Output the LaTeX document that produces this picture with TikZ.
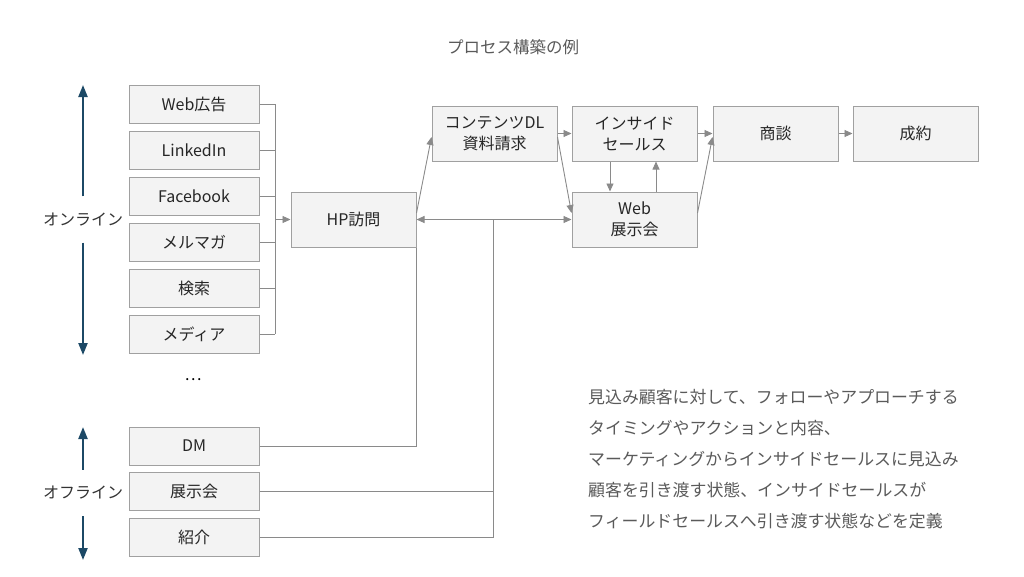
\documentclass[tikz,border=0pt]{standalone}
\usepackage{fontspec}
\setmainfont{Noto Sans CJK JP}
\usetikzlibrary{arrows.meta,positioning}
\definecolor{boxfill}{HTML}{F3F3F3}
\definecolor{boxline}{HTML}{A0A0A0}
\definecolor{linkgray}{HTML}{8A8A8A}
\definecolor{navy}{HTML}{1C4966}
\definecolor{notegray}{HTML}{5A5A5A}

\tikzset{
  chan/.style={draw=boxline,fill=boxfill,line width=1pt,minimum width=130pt,minimum height=38pt,
    inner sep=0pt,font=\fontsize{16}{21}\selectfont,text=black!85},
  stage/.style={chan,minimum width=125pt,minimum height=55pt,align=center},
  side/.style={font=\fontsize{16}{20}\selectfont,text=black!80,minimum height=46pt,inner sep=0pt},
  link/.style={draw=linkgray,line width=0.9pt},
  tip/.style={link,-{Triangle[length=8pt,width=7pt]}},
  span/.style={draw=navy,line width=2.2pt,-{Triangle[length=12pt,width=9pt]}},
}

\begin{document}
\begin{tikzpicture}[x=1pt,y=-1pt]
    \useasboundingbox (0,0) rectangle (1024,576);

    \node[font=\fontsize{16.5}{20}\selectfont,text=notegray] (title) at (513,47) {プロセス構築の例};

    % channels
    \node[chan] (web)   at (194,104) {Web広告};
    \node[chan] (lnk)   at (194,150) {LinkedIn};
    \node[chan] (fb)    at (194,196) {Facebook};
    \node[chan] (mm)    at (194,242) {メルマガ};
    \node[chan] (srch)  at (194,288) {検索};
    \node[chan] (media) at (194,334) {メディア};
    \node[font=\fontsize{16}{20}\selectfont] (more) at (193,380) {…};
    \node[chan] (dm)    at (194,446) {DM};
    \node[chan] (exh)   at (194,491) {展示会};
    \node[chan] (ref)   at (194,537) {紹介};

    \node[side] (online)  at (83,219.5) {オンライン};
    \node[side] (offline) at (83,493) {オフライン};
    \coordinate (OnTop)  at (83,85);
    \coordinate (OnBot)  at (83,355);
    \coordinate (OffTop) at (83,427);
    \coordinate (OffBot) at (83,560);
    \draw[span] (online.north)  -- (OnTop);
    \draw[span] (online.south)  -- (OnBot);
    \draw[span] (offline.north) -- (OffTop);
    \draw[span] (offline.south) -- (OffBot);

    % stages
    \node[stage] (hp)    at (353.5,219.5) {HP訪問};
    \node[stage] (cdl)   at (494.5,133.5) {コンテンツDL\\資料請求};
    \node[stage,right=14pt of cdl]   (insd)  {インサイド\\セールス};
    \node[stage,below=30pt of insd]  (webex) {Web\\展示会};
    \node[stage,right=15pt of insd]  (deal)  {商談};
    \node[stage,right=14pt of deal]  (won)   {成約};

    \coordinate (join) at (275,219.5);
    \coordinate (bus)  at (493,219.5);
    \foreach \n in {web,lnk,fb,mm,srch,media}
      \draw[link] (\n.east) -- (\n.east -| join);
    \draw[link] (web.east -| join) -- (media.east -| join);
    \draw[tip] (join) -- (hp.west);

    \draw[link] (dm.east) -| (hp.south east);
    \draw[link] (exh.east) -- (exh.east -| bus);
    \draw[link] (ref.east) -| (bus);
    \draw[link,{Triangle[length=8pt,width=7pt]}-{Triangle[length=8pt,width=7pt]}] (hp) -- (webex);

    \draw[tip] ([yshift=6.5pt]hp.east) -- ([yshift=-3.5pt]cdl.west);
    \draw[tip] (cdl) -- (insd);
    \draw[tip] ([yshift=-3.5pt]cdl.east) -- ([yshift=6.5pt]webex.west);
    \draw[tip] ([xshift=-24.5pt]insd.south) -- ([xshift=-24.5pt]webex.north);
    \draw[tip] ([xshift=21.5pt]webex.north) -- ([xshift=21.5pt]insd.south);
    \draw[tip] (insd) -- (deal);
    \draw[tip] ([yshift=6.5pt]webex.east) -- ([yshift=-3.5pt]deal.west);
    \draw[tip] (deal) -- (won);

    \node[anchor=north west,inner sep=0pt,align=left,text=notegray,
      font=\fontsize{16.9}{31}\selectfont] (note) at (588,389.5)
      {見込み顧客に対して、フォローやアプローチする\\
       タイミングやアクションと内容、\\
       マーケティングからインサイドセールスに見込み\\
       顧客を引き渡す状態、インサイドセールスが\\
       フィールドセールスへ引き渡す状態などを定義};
\end{tikzpicture}
\end{document}
